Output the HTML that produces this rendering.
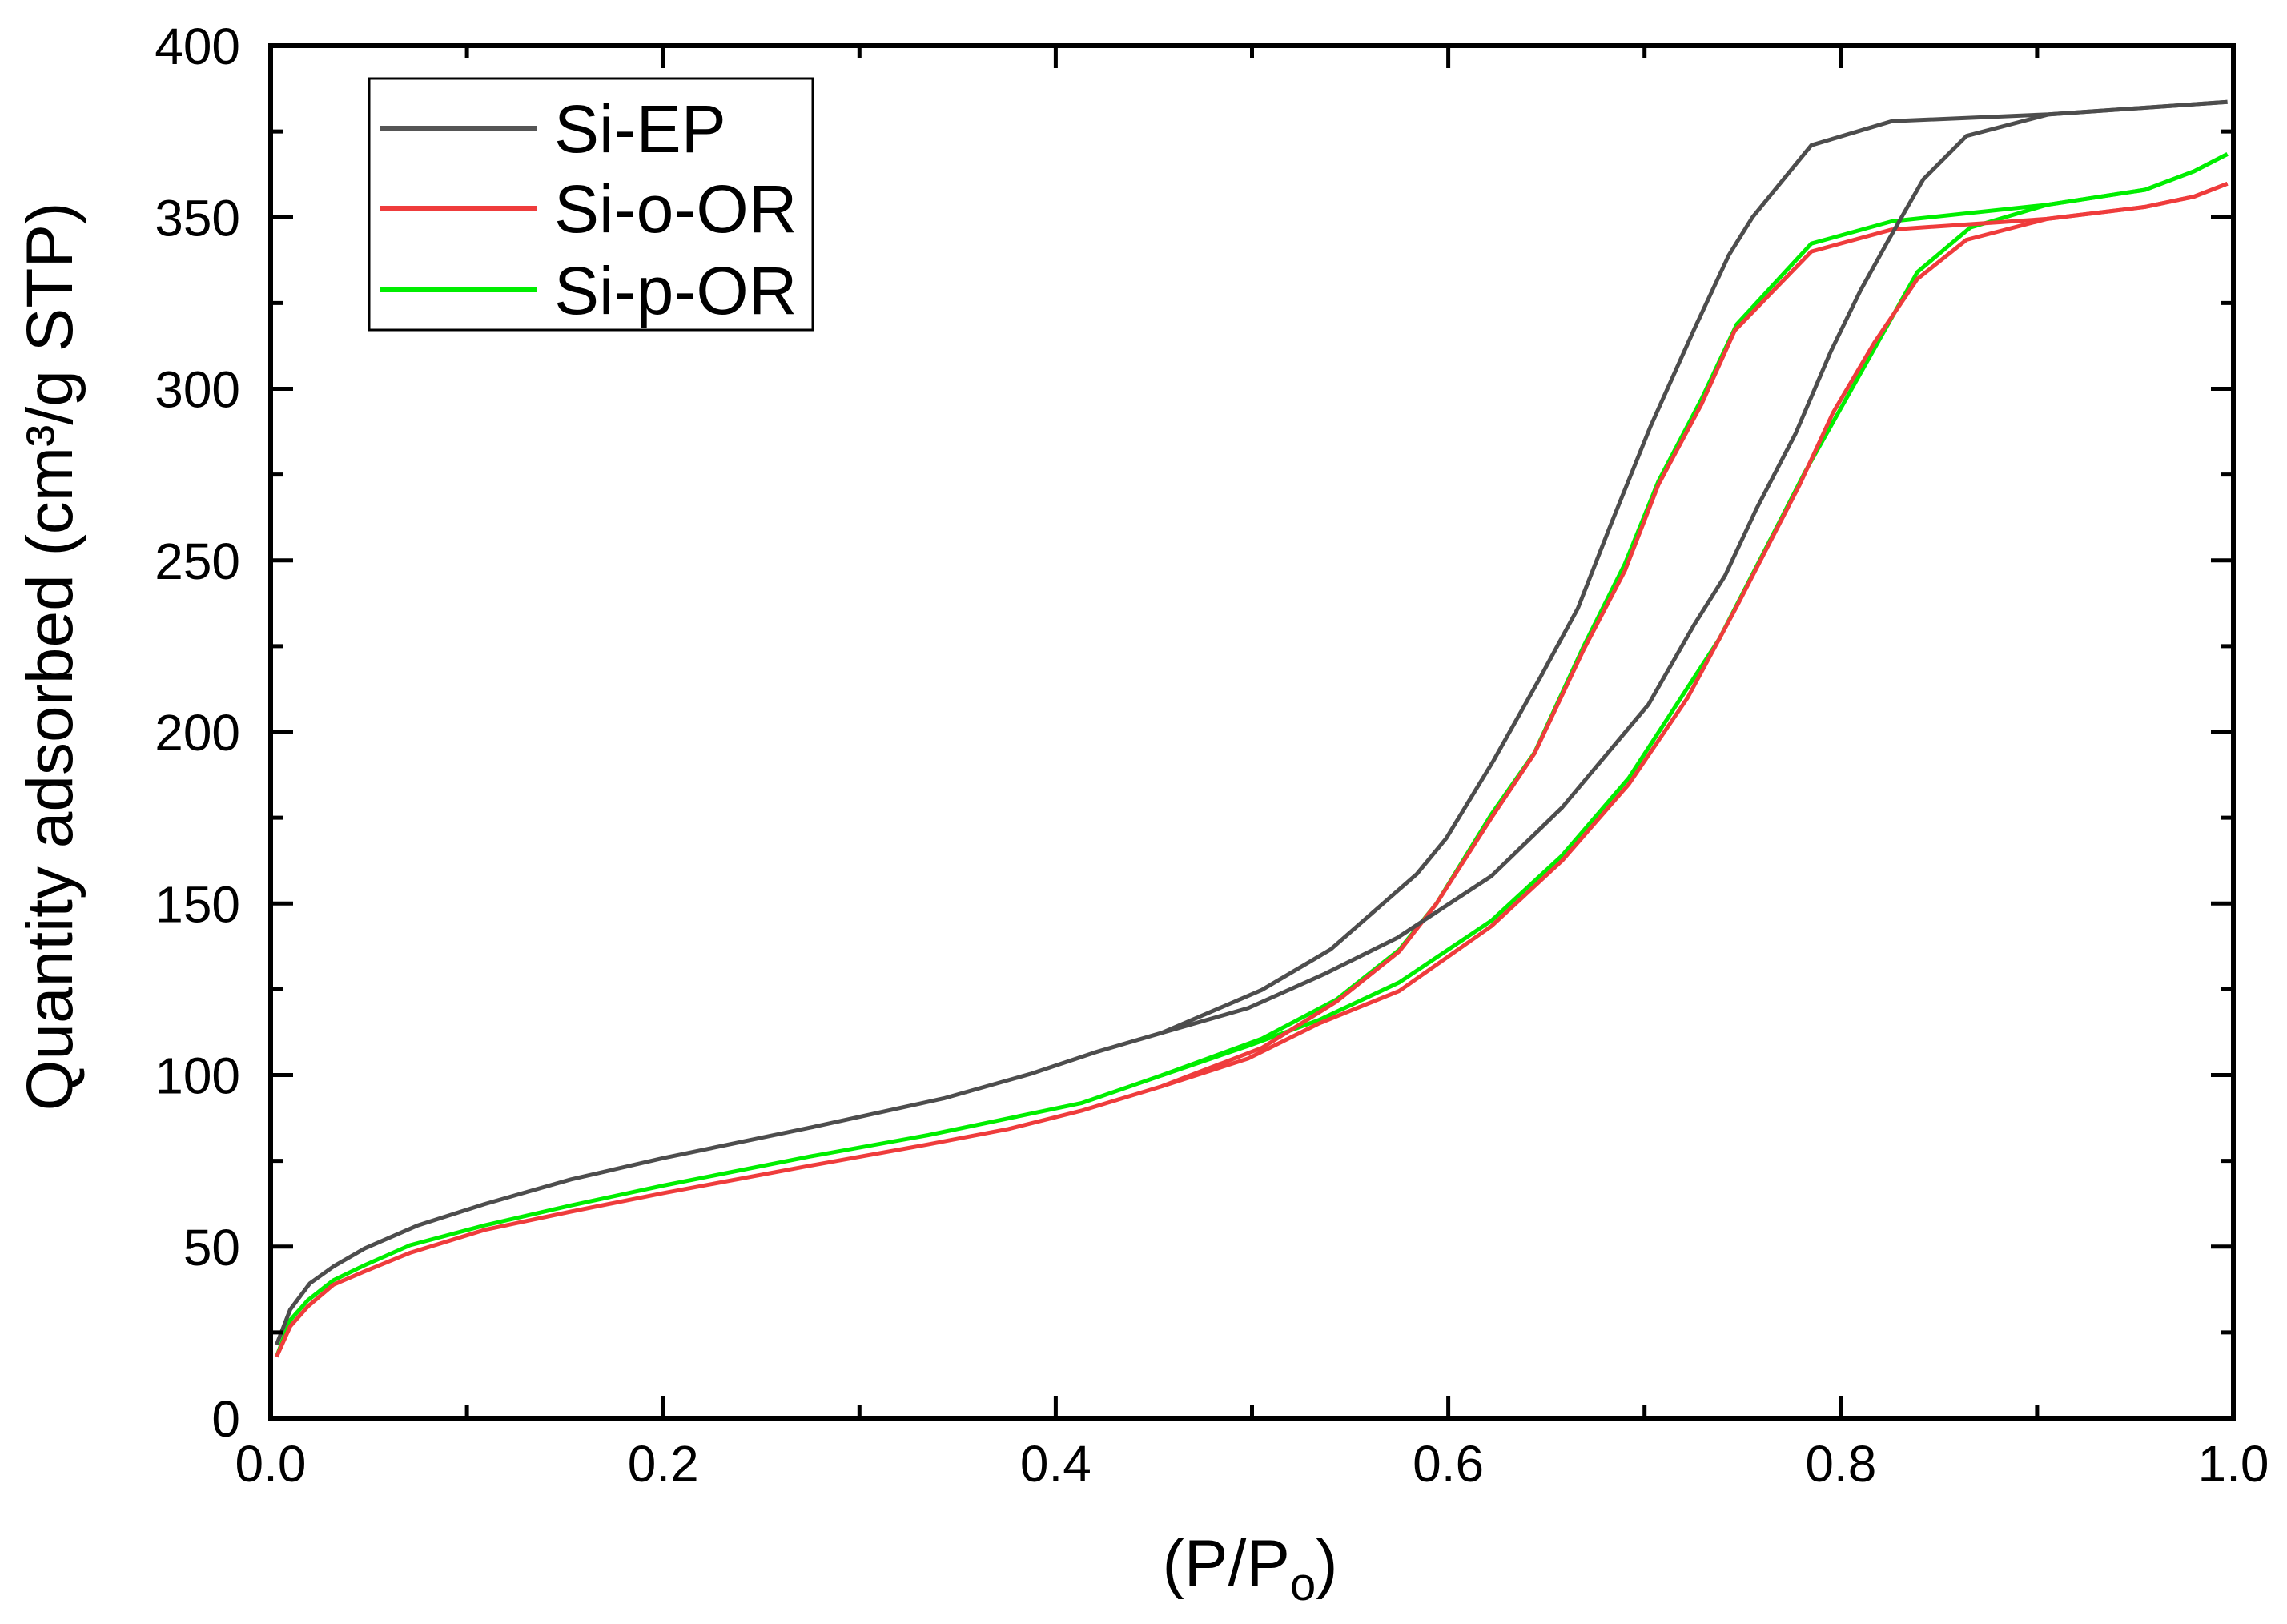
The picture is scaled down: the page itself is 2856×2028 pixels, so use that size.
<!DOCTYPE html>
<html><head><meta charset="utf-8"><style>
html,body{margin:0;padding:0;background:#fff}
svg{display:block}
text{font-family:"Liberation Sans",Arial,sans-serif;fill:#000}
</style></head><body>
<svg id="chart" width="2856" height="2028" viewBox="0 0 2856 2028" xmlns="http://www.w3.org/2000/svg">
<g id="plot"></g>
<g id="axes"></g>
<text x="0" y="0" font-size="82" text-anchor="middle" transform="translate(90,820) rotate(-90)">Quantity adsorbed (cm³/g STP)</text>
<text x="1561" y="1980" font-size="82" text-anchor="middle">(P/P<tspan font-size="58" dy="18">o</tspan><tspan dy="-18">)</tspan></text>
<g>
<rect x="461" y="98" width="554" height="314" fill="#fff" stroke="#000" stroke-width="3"/>
<line x1="474" y1="160" x2="670" y2="160" stroke="#555" stroke-width="6"/>
<text x="692" y="190" font-size="84">Si-EP</text>
<line x1="474" y1="260" x2="670" y2="260" stroke="#ef3c3c" stroke-width="6"/>
<text x="692" y="290" font-size="84">Si-o-OR</text>
<line x1="474" y1="362" x2="670" y2="362" stroke="#00ee00" stroke-width="6"/>
<text x="692" y="392" font-size="84">Si-p-OR</text>
</g>
</svg>
<script>
const xTicks=[0,0.2,0.4,0.6,0.8,1.0];
const xTickLabels=["0.0","0.2","0.4","0.6","0.8","1.0"];
const yTicks=[0,50,100,150,200,250,300,350,400];
const yTickLabels=["0","50","100","150","200","250","300","350","400"];

const epAdsX=[0.003,0.01,0.02,0.032,0.048,0.075,0.109,0.153,0.2,0.275,0.343,0.387,0.42,0.454,0.498,0.537,0.574,0.622,0.658,0.702,0.725,0.741,0.757,0.777,0.795,0.81,0.824,0.842,0.864,0.906,0.997];
const epAdsY=[21.4,31.7,39.3,44.2,49.5,56.2,62.4,69.6,75.8,84.7,93.2,100.3,106.6,112.3,119.5,129.5,140,158,178,208,231,245.5,265,287,311,328.6,343,361,373.7,380,383.6];
const epDesX=[0.454,0.505,0.540,0.584,0.599,0.623,0.647,0.666,0.683,0.703,0.725,0.743,0.755,0.785,0.826,0.906,0.997];
const epDesY=[112.3,124.8,136.6,158.6,169,191.6,216,236,260.7,289,317,339,350,371,378,380,383.6];

const oAdsX=[0.003,0.01,0.019,0.032,0.048,0.071,0.109,0.153,0.2,0.275,0.335,0.376,0.413,0.454,0.498,0.534,0.575,0.622,0.658,0.692,0.722,0.747,0.779,0.796,0.817,0.839,0.864,0.905,0.955,0.98,0.997];
const oAdsY=[17.9,26.8,32.6,38.9,42.8,48.2,54.9,60.2,65.6,73.6,79.8,84.3,89.6,96.7,104.8,115,124.5,143.4,162.5,184.8,210,236.6,272,293,313.4,332,343.4,349.5,353,356,359.8];
const oDesX=[0.454,0.505,0.543,0.575,0.594,0.622,0.644,0.669,0.69,0.707,0.729,0.746,0.785,0.826,0.905,0.955,0.98,0.997];
const oDesY=[96.7,107.9,121.4,136,150,175,193.8,224,247,272,295.5,317,340,346.4,349.5,353,356,359.8];

const pAdsX=[0.003,0.01,0.019,0.032,0.048,0.071,0.109,0.153,0.2,0.275,0.335,0.413,0.454,0.498,0.534,0.575,0.622,0.658,0.692,0.738,0.782,0.839,0.866,0.905,0.955,0.98,0.997];
const pAdsY=[17.9,28.6,34.4,40.2,44.6,50.4,56.2,62,67.8,76.3,82.5,91.8,99.9,108.5,116,127,145,164,186.6,227,276,334,347,353.6,358,363.4,368.4];
const pDesX=[0.454,0.505,0.543,0.575,0.594,0.622,0.644,0.669,0.69,0.707,0.729,0.747,0.785,0.826,0.905,0.955,0.98,0.997];
const pDesY=[99.9,110.6,122,136.5,150,176,194,225,249,273,297,318.8,342.3,348.8,353.6,358,363.4,368.4];

const L=338,R=2789,T=57,B=1771;
function sx(v){return L+v*(R-L);}
function sy(v){return B-v/400*(B-T);}
const NS="http://www.w3.org/2000/svg";
const plot=document.getElementById('plot');
const axes=document.getElementById('axes');

function addLine(xs,ys,color,name){
  const p=document.createElementNS(NS,'polyline');
  p.setAttribute('points',xs.map((x,i)=>sx(x).toFixed(1)+','+sy(ys[i]).toFixed(1)).join(' '));
  p.setAttribute('fill','none');p.setAttribute('stroke',color);
  p.setAttribute('stroke-width','5');p.setAttribute('stroke-linejoin','round');
  
  
  plot.appendChild(p);
}
addLine(pAdsX,pAdsY,'#00ee00','si-p-or-adsorption-line');
addLine(pDesX,pDesY,'#00ee00','si-p-or-desorption-line');
addLine(oAdsX,oAdsY,'#ef3c3c','si-o-or-adsorption-line');
addLine(oDesX,oDesY,'#ef3c3c','si-o-or-desorption-line');
addLine(epAdsX,epAdsY,'#4d4d4d','si-ep-adsorption-line');
addLine(epDesX,epDesY,'#4d4d4d','si-ep-desorption-line');

function ln(x1,y1,x2,y2,w,name){
  const l=document.createElementNS(NS,'line');
  l.setAttribute('x1',x1);l.setAttribute('y1',y1);l.setAttribute('x2',x2);l.setAttribute('y2',y2);
  l.setAttribute('stroke','#000');l.setAttribute('stroke-width',w);
  
  
  axes.appendChild(l);
}
function tx(x,y,s,anchor,name){
  const t=document.createElementNS(NS,'text');
  t.setAttribute('x',x);t.setAttribute('y',y);t.setAttribute('font-size','64');
  t.setAttribute('text-anchor',anchor);t.textContent=s;
  
  
  axes.appendChild(t);
}
const fr=document.createElementNS(NS,'rect');
fr.setAttribute('x',L);fr.setAttribute('y',T);fr.setAttribute('width',R-L);fr.setAttribute('height',B-T);
fr.setAttribute('fill','none');fr.setAttribute('stroke','#000');fr.setAttribute('stroke-width','6');


axes.appendChild(fr);
xTicks.forEach((v,i)=>{
  const x=sx(v);
  ln(x,B,x,B-28,5,'x-major-tick');
  ln(x,T,x,T+28,5,'x-top-tick');
  tx(x,1850,xTickLabels[i],'middle','x-tick-label');
  if(i<xTicks.length-1){const m=sx(v+0.1);ln(m,B,m,B-16,5,'x-minor-tick');ln(m,T,m,T+16,5,'x-top-minor-tick');}
});
yTicks.forEach((v,i)=>{
  const y=sy(v);
  ln(L,y,L+28,y,5,'y-major-tick');
  ln(R,y,R-28,y,5,'y-right-tick');
  tx(300,y+23,yTickLabels[i],'end','y-tick-label');
  if(i<yTicks.length-1){const m=sy(v+25);ln(L,m,L+16,m,5,'y-minor-tick');ln(R,m,R-16,m,5,'y-right-minor-tick');}
});
</script>
</body></html>
